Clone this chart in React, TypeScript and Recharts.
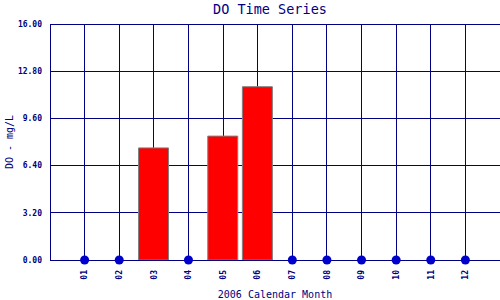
import React from 'react'
import { ComposedChart, Bar, Scatter, XAxis, YAxis, CartesianGrid, Label } from 'recharts'

const months = [1, 2, 3, 4, 5, 6, 7, 8, 9, 10, 11, 12]
const monthLabels = ['01', '02', '03', '04', '05', '06', '07', '08', '09', '10', '11', '12']
// null = no sample that month (drawn as a dot on the zero line)
const doValues: (number | null)[] = [null, null, 7.6, null, 8.4, 11.75, null, null, null, null, null, null]
const yTicks = [0, 3.2, 6.4, 9.6, 12.8, 16]

const NAVY = '#000080'
const MONO = '"DejaVu Sans Mono", "Liberation Mono", monospace'

const data = months.map((m, i) => ({
  month: m,
  value: doValues[i],
  missing: doValues[i] == null ? 0 : null,
}))

function MonthTick({ x, y, payload }: any) {
  const label = monthLabels[payload.value - 1] ?? ''
  const ty = y + 2
  return (
    <text
      x={x}
      y={ty}
      dy="0.35em"
      transform={`rotate(-90, ${x}, ${ty})`}
      textAnchor="end"
      fontSize={8}
      fontWeight="bold"
      fontFamily={MONO}
      fill={NAVY}
    >
      {label}
    </text>
  )
}

export default function App() {
  return (
    <div style={{ position: 'absolute', left: 0, top: 0, width: 500, height: 300, background: '#fff' }}>
      <div
        style={{
          position: 'absolute', left: 50, width: 440, top: 0, textAlign: 'center',
          fontFamily: MONO, fontSize: 13.5, color: NAVY, lineHeight: '18px',
        }}
      >
        DO Time Series
      </div>
      <ComposedChart width={500} height={300} data={data} margin={{ top: 24, right: 0, bottom: 0, left: 0 }}>
        <CartesianGrid stroke={NAVY} strokeWidth={1} shapeRendering="crispEdges" />
        <XAxis
          dataKey="month"
          type="number"
          domain={[0, 13]}
          ticks={months}
          interval={0}
          height={40}
          axisLine={{ stroke: NAVY, strokeWidth: 1, shapeRendering: 'crispEdges' }}
          tickLine={false}
          tick={<MonthTick />}
        >
          <Label
            value="2006 Calendar Month"
            position="insideBottom"
            offset={2}
            style={{ fontFamily: MONO, fontSize: 10, fill: NAVY }}
          />
        </XAxis>
        <YAxis
          type="number"
          domain={[0, 16]}
          ticks={yTicks}
          width={50}
          axisLine={{ stroke: NAVY, strokeWidth: 1, shapeRendering: 'crispEdges' }}
          tickLine={false}
          tick={{ fontSize: 8, fontWeight: 'bold', fontFamily: MONO, fill: NAVY }}
          tickFormatter={(v: number) => v.toFixed(2)}
        >
          <Label
            value="DO - mg/L"
            angle={-90}
            position="insideLeft"
            offset={9}
            style={{ fontFamily: MONO, fontSize: 10, fill: NAVY, textAnchor: 'middle' }}
          />
        </YAxis>
        <Bar dataKey="value" barSize={30} fill="#FF0000" stroke="#808080" strokeWidth={1} isAnimationActive={false} />
        <Scatter dataKey="missing" fill="#0000CC" shape="circle" isAnimationActive={false} />
      </ComposedChart>
    </div>
  )
}
